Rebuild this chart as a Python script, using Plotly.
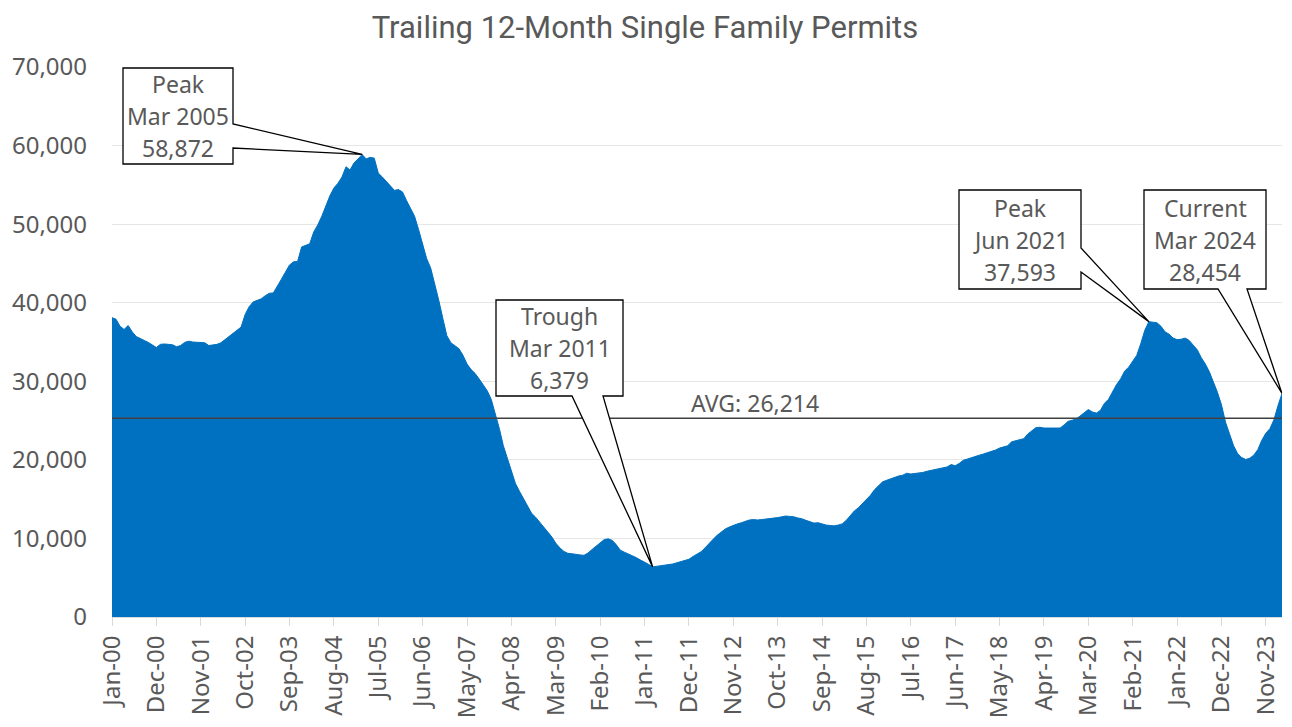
import pandas as pd
import plotly.graph_objects as go

# trailing 12-month single family permits, monthly Jan 2000 - Mar 2024
permits = [
    # 2000
    38100, 37900, 37000, 36600, 37100, 36300, 35700, 35500, 35200, 34950, 34650, 34300,
    # 2001
    34700, 34750, 34700, 34650, 34400, 34550, 34950, 35100, 35000, 34950, 34950, 34900,
    # 2002
    34550, 34600, 34700, 34900, 35300, 35750, 36100, 36500, 36900, 38500, 39500, 40100,
    # 2003
    40300, 40500, 40900, 41200, 41250, 42200, 43000, 43900, 44800, 45200, 45250, 47100,
    # 2004
    47300, 47500, 49000, 49900, 51000, 52300, 53600, 54600, 55200, 56000, 57300, 56900,
    # 2005
    57800, 58300, 58872, 58300, 58500, 58400, 56500, 56000, 55400, 54800, 54300, 54400,
    # 2006
    54100, 53000, 52000, 51000, 49300, 47300, 45600, 44400, 42400, 40300, 38000, 35800,
    # 2007
    34900, 34500, 34150, 33300, 32200, 31500, 31000, 30300, 29500, 28800, 27700, 26000,
    # 2008
    24000, 21800, 20200, 18700, 17000, 16000, 15000, 14000, 13200, 12700, 12100, 11500,
    # 2009
    10800, 10200, 9400, 8800, 8350, 8100, 8050, 7950, 7900, 7850, 8150, 8600,
    # 2010
    9050, 9450, 9850, 9950, 9750, 9200, 8500, 8250, 8050, 7850, 7550, 7250,
    # 2011
    7000, 6700, 6379, 6450, 6500, 6550, 6650, 6750, 6900, 7050, 7200, 7350,
    # 2012
    7700, 8000, 8300, 8800, 9400, 9900, 10400, 10850, 11200, 11450, 11700, 11850,
    # 2013
    12000, 12200, 12350, 12400, 12350, 12400, 12450, 12500, 12600, 12650, 12750, 12850,
    # 2014
    12800, 12750, 12600, 12500, 12300, 12100, 11950, 12000, 11800, 11700, 11650, 11600,
    # 2015
    11700, 11850, 12300, 12900, 13500, 13900, 14400, 14900, 15500, 16200, 16700, 17200,
    # 2016
    17400, 17600, 17800, 17950, 18050, 18300, 18200, 18250, 18350, 18400, 18550, 18650,
    # 2017
    18750, 18850, 18950, 19100, 19400, 19250, 19550, 19950, 20100, 20300, 20500, 20600,
    # 2018
    20750, 20900, 21050, 21250, 21500, 21650, 21800, 22300, 22450, 22550, 22700, 23300,
    # 2019
    23700, 24100, 24150, 24050, 24050, 24050, 24000, 24050, 24450, 24900, 25050, 25200,
    # 2020
    25600, 26000, 26400, 26100, 25950, 26300, 27200, 27700, 28700, 29600, 30300, 31300,
    # 2021
    31800, 32600, 33300, 34800, 36500, 37593, 37550, 37450, 37000, 36300, 36000, 35500,
    # 2022
    35300, 35350, 35500, 35200, 34600, 34000, 33000, 32200, 31200, 30000, 28600, 27000,
    # 2023
    24800, 23300, 21800, 20800, 20300, 20050, 20200, 20600, 21300, 22500, 23400, 23970,
    # 2024
    25100, 26900, 28454,
]

months = pd.date_range("2000-01-01", periods=len(permits), freq="MS")
month_labels = [d.strftime("%b-%y") for d in months]
month_keys = [d.strftime("%Y-%m") for d in months]

avg_label_value = 26214
avg_line_level = 25300   # where the average line sits on the chart

# callouts: (title line, month of the point)
callout_names = ["Peak", "Trough", "Peak", "Current"]
callout_months = ["2005-03", "2011-03", "2021-06", "2024-03"]

y_max = 70000
y_step = 10000
tick_every = 11

# page is drawn with an 8px body margin, so lay out on a slightly smaller canvas
OFF = 8
W, H = 1292 - OFF, 727 - OFF
# plot area in screen pixels (used to place the callout boxes)
PL, PR, PT, PB = 112, 1282, 67, 617
n = len(permits)


def to_x(px):
    return (px - PL) / (PR - PL) * (n - 1)


def to_y(py):
    return (PB - py) / (PB - PT) * y_max


grey = "#595959"
font = "Noto Sans"

x_idx = list(range(n))

fig = go.Figure()
fig.add_trace(go.Scatter(
    x=x_idx, y=permits, mode="lines", fill="tozeroy",
    line=dict(color="#0070C0", width=1), fillcolor="#0070C0",
    hoverinfo="skip", showlegend=False,
))

# average line + label
fig.add_shape(type="line", xref="x", yref="y", x0=0, x1=n - 1,
              y0=avg_line_level, y1=avg_line_level,
              line=dict(color="#404040", width=1.5))
fig.add_annotation(x=to_x(755), y=to_y(403), xref="x", yref="y",
                   text=f"AVG: {avg_label_value:,}", showarrow=False,
                   font=dict(family=font, size=23, color=grey))

# callout boxes: box in pixels + which side the pointer leaves from
boxes = [
    dict(box=(123, 68, 233, 164), side="right", base=(124, 148)),
    dict(box=(496, 300, 623, 396), side="bottom", base=(572, 603)),
    dict(box=(959, 190, 1081, 289), side="right", base=(248, 272)),
    dict(box=(1144, 190, 1266, 289), side="bottom", base=(1218, 1247)),
]

for name, m, b in zip(callout_names, callout_months, boxes):
    i = month_keys.index(m)
    tx, ty = i, permits[i]
    x0, y0, x1, y1 = b["box"]
    X0, X1, Y0, Y1 = to_x(x0), to_x(x1), to_y(y0), to_y(y1)
    if b["side"] == "right":
        B0, B1 = to_y(b["base"][0]), to_y(b["base"][1])
        pts = [(X0, Y0), (X1, Y0), (X1, B0), (tx, ty), (X1, B1), (X1, Y1), (X0, Y1)]
    else:
        B0, B1 = to_x(b["base"][0]), to_x(b["base"][1])
        pts = [(X0, Y0), (X1, Y0), (X1, Y1), (B1, Y1), (tx, ty), (B0, Y1), (X0, Y1)]
    path = "M " + " L ".join(f"{px},{py}" for px, py in pts) + " Z"
    fig.add_shape(type="path", xref="x", yref="y", path=path,
                  fillcolor="white", line=dict(color="black", width=1.3))
    lines = [name, months[i].strftime("%b %Y"), f"{permits[i]:,}"]
    cy = (y0 + y1) / 2
    for k, txt in enumerate(lines):
        fig.add_annotation(x=to_x((x0 + x1) / 2), y=to_y(cy + (k - 1) * 32),
                           xref="x", yref="y", text=txt, showarrow=False,
                           font=dict(family=font, size=23, color=grey))

fig.update_layout(
    width=W, height=H,
    margin=dict(l=PL - OFF, r=1292 - PR, t=PT - OFF, b=727 - PB),
    plot_bgcolor="white", paper_bgcolor="white",
    title=dict(text="Trailing 12-Month Single Family Permits",
               x=(645 - OFF) / W, xref="container", y=1 - (27 - OFF) / H, yref="container",
               xanchor="center", yanchor="middle",
               font=dict(family="Roboto", size=31, color=grey)),
    font=dict(family=font, color=grey),
)
fig.update_xaxes(
    range=[0, n - 1], tickmode="array",
    tickvals=x_idx[::tick_every], ticktext=month_labels[::tick_every],
    tickangle=-90, tickfont=dict(family=font, size=24, color=grey),
    ticks="outside", ticklen=8, tickcolor="#D9D9D9",
    showline=True, linecolor="#D9D9D9", showgrid=False, zeroline=False,
    automargin=False,
)
fig.update_yaxes(
    range=[0, y_max], tickvals=list(range(0, y_max + 1, y_step)),
    tickformat=",", tickfont=dict(family=font, size=24, color=grey),
    gridcolor="#E6E6E6", gridwidth=1, zeroline=False, showline=False,
    ticklabelstandoff=24, automargin=False,
)

fig.write_html("out.html")
